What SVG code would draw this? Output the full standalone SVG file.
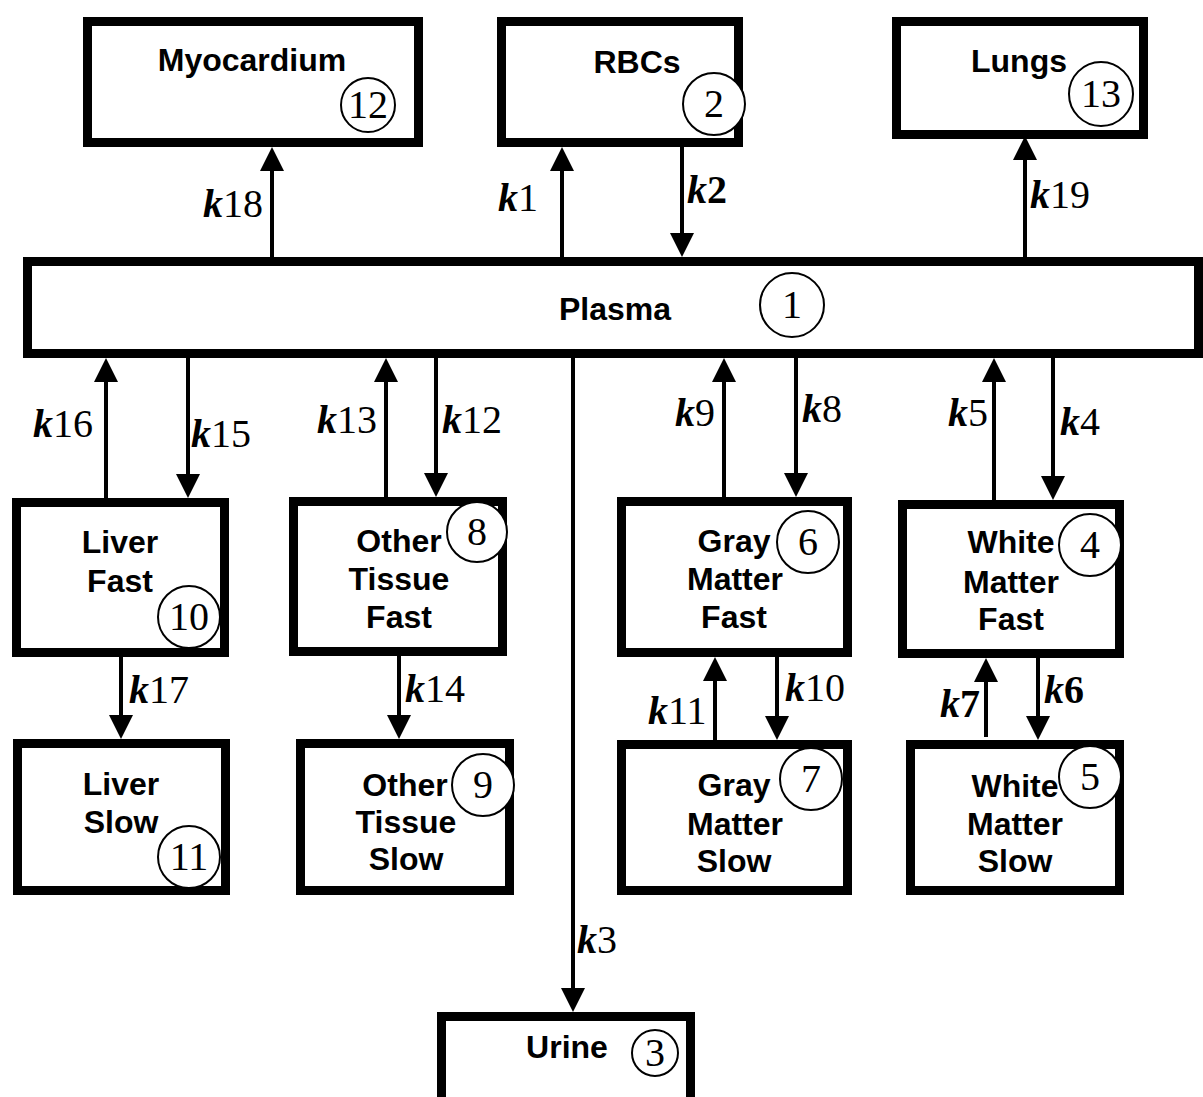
<svg xmlns="http://www.w3.org/2000/svg" width="1203" height="1097" viewBox="0 0 1203 1097">
<style>
.box{fill:#fff;stroke:#000;stroke-width:9}
.lbl{font-family:"Liberation Sans",Arial,sans-serif;font-weight:bold;font-size:32px;text-anchor:middle;fill:#000}
.num circle{fill:#fff;stroke:#000;stroke-width:2}
.num text{font-family:"Liberation Serif","Times New Roman",serif;font-size:40px;text-anchor:middle;fill:#000}
.k{font-family:"Liberation Serif","Times New Roman",serif;font-size:40px;fill:#000}
.v{font-weight:bold;font-style:italic}
.b{font-weight:bold}
#connectors line{stroke:#000;stroke-width:4;marker-end:url(#ah)}
</style>
<defs>
<marker id="ah" markerUnits="userSpaceOnUse" markerWidth="24" markerHeight="24" viewBox="0 0 24 24" refX="11" refY="12" orient="auto">
<path d="M0,0 L24,12 L0,24 z" fill="#000"/>
</marker>
</defs>
<rect width="1203" height="1097" fill="#fff"/>

<g id="myocardium"><rect class="box" x="87.5" y="21.5" width="331" height="121"/><text class="lbl" x="252" y="71">Myocardium</text><g class="num"><circle cx="368" cy="105" r="27"/><text x="368" y="118">12</text></g></g>
<g id="rbcs"><rect class="box" x="501.5" y="21.5" width="237" height="121"/><text class="lbl" x="637" y="73">RBCs</text><g class="num"><circle cx="714" cy="104" r="31"/><text x="714" y="117">2</text></g></g>
<g id="lungs"><rect class="box" x="896.5" y="21.5" width="247" height="113"/><text class="lbl" x="1019" y="72">Lungs</text><g class="num"><circle cx="1101" cy="94" r="32"/><text x="1101" y="107">13</text></g></g>
<g id="plasma"><rect class="box" x="27.5" y="261.5" width="1171" height="92"/><text class="lbl" x="615" y="320">Plasma</text><g class="num"><circle cx="792" cy="305" r="32"/><text x="792" y="318">1</text></g></g>

<g id="liver-fast"><rect class="box" x="16.5" y="502.5" width="208" height="150"/><text class="lbl" x="120" y="553">Liver</text><text class="lbl" x="120" y="592">Fast</text><g class="num"><circle cx="189" cy="617" r="31"/><text x="189" y="630">10</text></g></g>
<g id="other-fast"><rect class="box" x="293.5" y="501.5" width="209" height="150"/><text class="lbl" x="399" y="552">Other</text><text class="lbl" x="399" y="590">Tissue</text><text class="lbl" x="399" y="628">Fast</text><g class="num"><circle cx="477" cy="532" r="30"/><text x="477" y="545">8</text></g></g>
<g id="gray-fast"><rect class="box" x="621.5" y="501.5" width="226" height="151"/><text class="lbl" x="734" y="552">Gray</text><text class="lbl" x="735" y="590">Matter</text><text class="lbl" x="734" y="628">Fast</text><g class="num"><circle cx="808" cy="542" r="31"/><text x="808" y="555">6</text></g></g>
<g id="white-fast"><rect class="box" x="902.5" y="504.5" width="217" height="149"/><text class="lbl" x="1011" y="553">White</text><text class="lbl" x="1011" y="593">Matter</text><text class="lbl" x="1011" y="630">Fast</text><g class="num"><circle cx="1090" cy="545" r="31"/><text x="1090" y="558">4</text></g></g>

<g id="liver-slow"><rect class="box" x="17.5" y="743.5" width="208" height="147"/><text class="lbl" x="121" y="795">Liver</text><text class="lbl" x="121" y="833">Slow</text><g class="num"><circle cx="189" cy="857" r="31"/><text x="189" y="870">11</text></g></g>
<g id="other-slow"><rect class="box" x="300.5" y="743.5" width="209" height="147"/><text class="lbl" x="405" y="796">Other</text><text class="lbl" x="406" y="833">Tissue</text><text class="lbl" x="406" y="870">Slow</text><g class="num"><circle cx="483" cy="785" r="31"/><text x="483" y="798">9</text></g></g>
<g id="gray-slow"><rect class="box" x="621.5" y="744.5" width="226" height="146"/><text class="lbl" x="734" y="796">Gray</text><text class="lbl" x="735" y="835">Matter</text><text class="lbl" x="734" y="872">Slow</text><g class="num"><circle cx="811" cy="779" r="31"/><text x="811" y="792">7</text></g></g>
<g id="white-slow"><rect class="box" x="910.5" y="744.5" width="209" height="146"/><text class="lbl" x="1015" y="797">White</text><text class="lbl" x="1015" y="835">Matter</text><text class="lbl" x="1015" y="872">Slow</text><g class="num"><circle cx="1090" cy="777" r="31"/><text x="1090" y="790">5</text></g></g>

<g id="urine"><rect class="box" x="441.5" y="1016.5" width="249" height="120"/><text class="lbl" x="567" y="1058">Urine</text><g class="num"><circle cx="655" cy="1053" r="23"/><text x="655" y="1066">3</text></g></g>

<g id="connectors">
<line x1="272" y1="257" x2="272" y2="160"/>
<line x1="562" y1="257" x2="562" y2="160"/>
<line x1="682" y1="147" x2="682" y2="244"/>
<line x1="1025" y1="257" x2="1025" y2="149"/>
<line x1="106" y1="498" x2="106" y2="371"/>
<line x1="188" y1="358" x2="188" y2="485"/>
<line x1="386" y1="497" x2="386" y2="371"/>
<line x1="436" y1="358" x2="436" y2="484"/>
<line x1="724" y1="497" x2="724" y2="371"/>
<line x1="796" y1="358" x2="796" y2="484"/>
<line x1="994" y1="500" x2="994" y2="371"/>
<line x1="1053" y1="358" x2="1053" y2="487"/>
<line x1="573" y1="358" x2="573" y2="999"/>
<line x1="121" y1="657" x2="121" y2="726"/>
<line x1="399" y1="656" x2="399" y2="726"/>
<line x1="715" y1="740" x2="715" y2="670"/>
<line x1="777" y1="657" x2="777" y2="727"/>
<line x1="986" y1="737" x2="986" y2="671"/>
<line x1="1038" y1="658" x2="1038" y2="727"/>
</g>

<g id="rate-labels">
<text class="k" x="203" y="217"><tspan class="v">k</tspan>18</text>
<text class="k" x="498" y="211"><tspan class="v">k</tspan>1</text>
<text class="k" x="687" y="203"><tspan class="v">k</tspan><tspan class="b">2</tspan></text>
<text class="k" x="1030" y="208"><tspan class="v">k</tspan>19</text>
<text class="k" x="33" y="437"><tspan class="v">k</tspan>16</text>
<text class="k" x="191" y="447"><tspan class="v">k</tspan>15</text>
<text class="k" x="317" y="433"><tspan class="v">k</tspan>13</text>
<text class="k" x="442" y="433"><tspan class="v">k</tspan>12</text>
<text class="k" x="675" y="426"><tspan class="v">k</tspan>9</text>
<text class="k" x="802" y="422"><tspan class="v">k</tspan>8</text>
<text class="k" x="948" y="426"><tspan class="v">k</tspan>5</text>
<text class="k" x="1060" y="435"><tspan class="v">k</tspan>4</text>
<text class="k" x="577" y="953"><tspan class="v">k</tspan>3</text>
<text class="k" x="129" y="703"><tspan class="v">k</tspan>17</text>
<text class="k" x="405" y="702"><tspan class="v">k</tspan>14</text>
<text class="k" x="648" y="724"><tspan class="v">k</tspan>11</text>
<text class="k" x="785" y="701"><tspan class="v">k</tspan>10</text>
<text class="k" x="940" y="717"><tspan class="v">k</tspan><tspan class="b">7</tspan></text>
<text class="k" x="1044" y="703"><tspan class="v">k</tspan><tspan class="b">6</tspan></text>
</g>
</svg>
